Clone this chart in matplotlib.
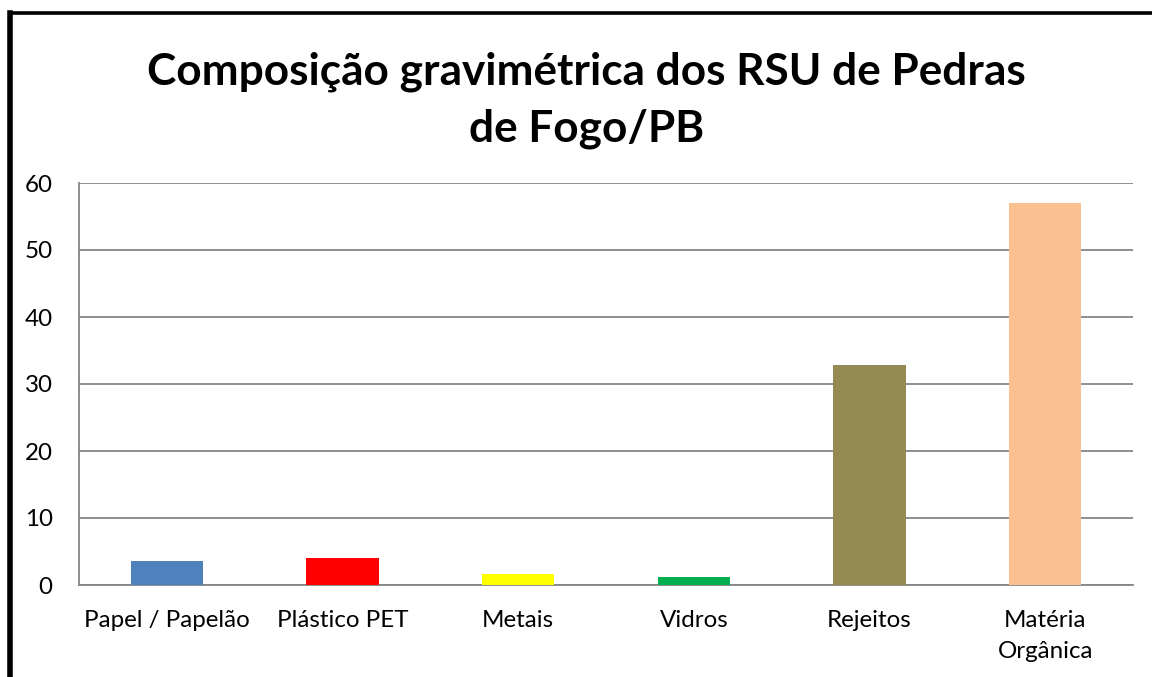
import matplotlib
matplotlib.use("Agg")
import matplotlib.pyplot as plt
from matplotlib.lines import Line2D

categories = ["Papel / Papelão", "Plástico PET", "Metais", "Vidros", "Rejeitos", "Matéria\nOrgânica"]
values = [3.6, 4.0, 1.7, 1.2, 32.9, 57.0]
colors = ["#4F81BD", "#FF0000", "#FFFF00", "#00B050", "#948A54", "#FAC090"]
yticks = [0, 10, 20, 30, 40, 50, 60]
title = "Composição gravimétrica dos RSU de Pedras\nde Fogo/PB"

plt.rcParams['font.family'] = ['Lato', 'DejaVu Sans']

W, H = 1152, 677
fig = plt.figure(figsize=(W / 100, H / 100), dpi=100)
ax = fig.add_axes([79 / W, 1 - 585 / H, (1133 - 79) / W, (585 - 183) / H])

x = list(range(len(categories)))
ax.bar(x, values, width=0.41, color=colors, zorder=3)
ax.set_xlim(-0.5, len(categories) - 0.5)
ax.set_ylim(0, 60)
ax.set_yticks(yticks)
ax.set_xticks(x)
ax.set_xticklabels(categories, fontsize=17.4, linespacing=1.58)
ax.tick_params(axis='x', length=0, pad=18)
ax.tick_params(axis='y', length=0, pad=19, labelsize=17.4)
ax.yaxis.grid(True, color="#868686", linewidth=1.3, zorder=0)
for s in ["top", "right"]:
    ax.spines[s].set_visible(False)
for s in ["left", "bottom"]:
    ax.spines[s].set_color("#868686")
    ax.spines[s].set_linewidth(1.3)

fig.text(0.509, 1 - 100 / H, title, ha="center", va="center", fontsize=31.8,
         fontweight="bold", linespacing=1.5)

# outer frame (left and top visible)
fig.add_artist(Line2D([10.3 / W, 10.3 / W], [0, 1 - 12.5 / H], transform=fig.transFigure,
                      color="black", linewidth=4, solid_capstyle="projecting"))
fig.add_artist(Line2D([10.3 / W, 1.0], [1 - 12.8 / H, 1 - 12.8 / H], transform=fig.transFigure,
                      color="black", linewidth=2.6, solid_capstyle="projecting"))

fig.savefig("out.png", dpi=100, facecolor="white")
